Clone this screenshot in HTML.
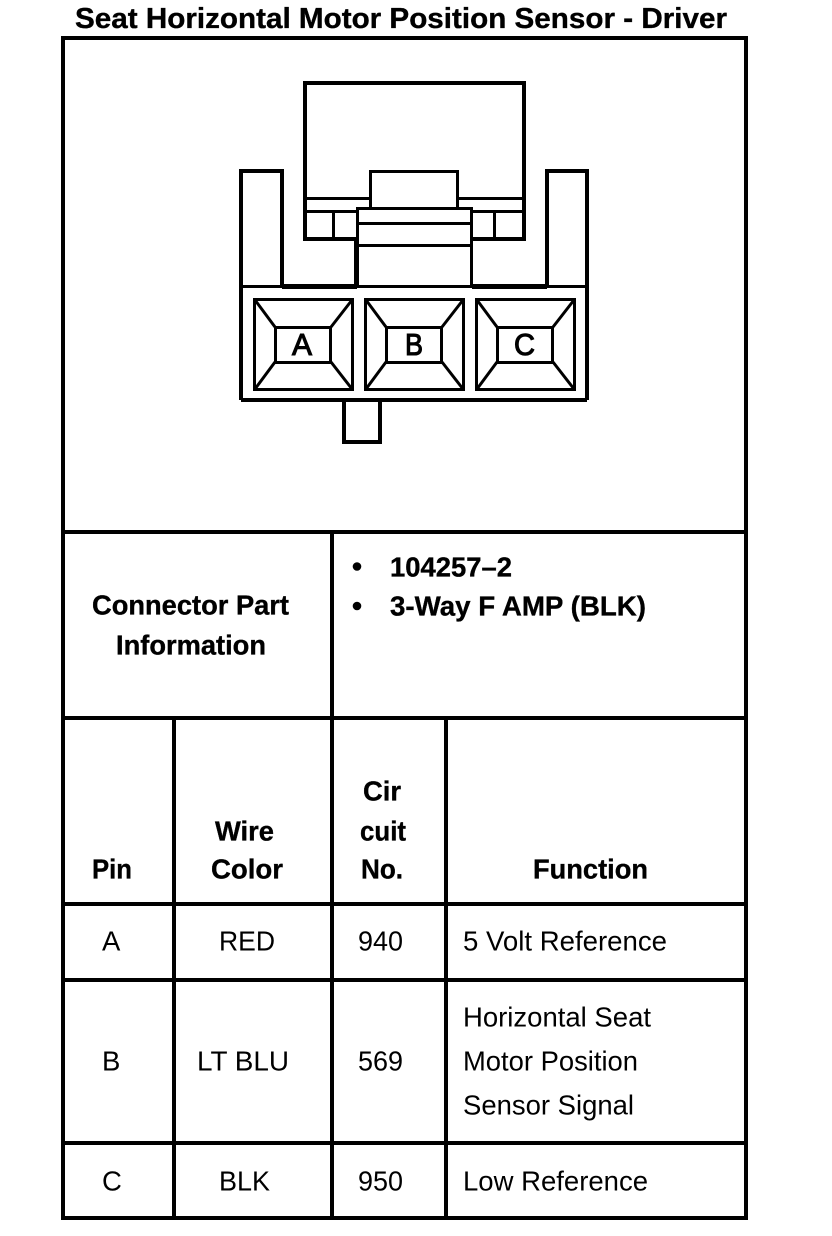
<!DOCTYPE html>
<html><head><meta charset="utf-8"><style>
html,body{margin:0;padding:0;background:#fff;width:832px;height:1236px;overflow:hidden}
svg{display:block}
text{font-family:"Liberation Sans",Arial,sans-serif;fill:#000}
.b{font-weight:bold;font-size:27.500px;stroke:#000;stroke-width:.35px}
.r{font-size:27.500px}
.p{font-size:31px;stroke:#000;stroke-width:1.100px}
</style></head><body>
<svg width="832" height="1236" viewBox="0 0 832 1236" xmlns="http://www.w3.org/2000/svg">
<rect width="832" height="1236" fill="#fff"/>
<text class="b" x="75" y="28" style="font-size:28.500px" textLength="652" lengthAdjust="spacingAndGlyphs">Seat Horizontal Motor Position Sensor - Driver</text>

<g stroke="#000" stroke-width="4" fill="none" shape-rendering="crispEdges">
<rect x="63" y="38" width="683" height="1180"/>
<path d="M63 532H746M63 718H746M63 904H746M63 980H746M63 1143H746"/>
<path d="M332 532V1218M174 718V1218M446 718V1218"/>
<path d="M241 400V171H282V286M547 286V171H587V400M344 400V442H380V400"/>
<path d="M241 400H587"/>
</g>
<g stroke="#000" fill="none" shape-rendering="crispEdges">
<rect x="305" y="83" width="219" height="156" stroke-width="4" fill="#fff"/>
<g stroke-width="3">
<path d="M305 198.500H370M458 198.500H524M305 211.500H357M472 211.500H524M333.500 211.500V239M494.500 211.500V239"/>
<rect x="370.500" y="171.500" width="87" height="37" fill="#fff"/>
<rect x="357.500" y="208.500" width="114" height="78" fill="#fff"/>
<path d="M357 223.500H472M357 245.500H472M241 286.500H587"/>
</g>
<path d="M356.500 238V288" stroke-width="5"/>
</g>
<path d="M282 286.500H357M472 286.500H547" stroke="#000" stroke-width="5" shape-rendering="crispEdges"/>

<g stroke="#000" stroke-width="3" fill="none">
<g>
<rect x="254.500" y="299.500" width="98" height="90" shape-rendering="crispEdges"/>
<rect x="275.500" y="327.500" width="55" height="35" shape-rendering="crispEdges"/>
<path d="M255 300L275 327M352 300L331 327M255 389L275 362M352 389L331 362"/>
</g>
<g>
<rect x="365.500" y="299.500" width="98" height="90" shape-rendering="crispEdges"/>
<rect x="386.500" y="327.500" width="55" height="35" shape-rendering="crispEdges"/>
<path d="M366 300L386 327M463 300L442 327M366 389L386 362M463 389L442 362"/>
</g>
<g>
<rect x="476.500" y="299.500" width="98" height="90" shape-rendering="crispEdges"/>
<rect x="497.500" y="327.500" width="55" height="35" shape-rendering="crispEdges"/>
<path d="M477 300L497 327M574 300L553 327M477 389L497 362M574 389L553 362"/>
</g>
</g>
<text class="p" x="292" y="355" textLength="20" lengthAdjust="spacingAndGlyphs">A</text>
<text class="p" x="405" y="355" textLength="18" lengthAdjust="spacingAndGlyphs">B</text>
<text class="p" x="514" y="355" textLength="21" lengthAdjust="spacingAndGlyphs">C</text>

<text class="b" x="92" y="614.500" textLength="197" lengthAdjust="spacingAndGlyphs">Connector Part</text>
<text class="b" x="116" y="654.500" textLength="150" lengthAdjust="spacingAndGlyphs">Information</text>
<circle cx="357" cy="566.500" r="4.300"/><circle cx="357" cy="606" r="4.300"/>
<text class="b" x="390" y="576.500" textLength="122" lengthAdjust="spacingAndGlyphs">104257–2</text>
<text class="b" x="390" y="615.500" textLength="256" lengthAdjust="spacingAndGlyphs">3-Way F AMP (BLK)</text>

<text class="b" x="363" y="800.500" textLength="38" lengthAdjust="spacingAndGlyphs">Cir</text>
<text class="b" x="360" y="840.500" textLength="46" lengthAdjust="spacingAndGlyphs">cuit</text>
<text class="b" x="361" y="878.500" textLength="42" lengthAdjust="spacingAndGlyphs">No.</text>
<text class="b" x="215" y="840.500" textLength="59" lengthAdjust="spacingAndGlyphs">Wire</text>
<text class="b" x="211" y="878.500" textLength="72" lengthAdjust="spacingAndGlyphs">Color</text>
<text class="b" x="92" y="878.500" textLength="40" lengthAdjust="spacingAndGlyphs">Pin</text>
<text class="b" x="533" y="878.500" textLength="115" lengthAdjust="spacingAndGlyphs">Function</text>

<text class="r" x="102" y="950.500">A</text>
<text class="r" x="219" y="950.500" textLength="56" lengthAdjust="spacingAndGlyphs">RED</text>
<text class="r" x="358" y="950.500" textLength="45" lengthAdjust="spacingAndGlyphs">940</text>
<text class="r" x="463" y="950.500" textLength="204" lengthAdjust="spacingAndGlyphs">5 Volt Reference</text>

<text class="r" x="102" y="1070.500">B</text>
<text class="r" x="197" y="1070.500" textLength="92" lengthAdjust="spacingAndGlyphs">LT BLU</text>
<text class="r" x="358" y="1070.500" textLength="45" lengthAdjust="spacingAndGlyphs">569</text>
<text class="r" x="463" y="1026.500" textLength="188" lengthAdjust="spacingAndGlyphs">Horizontal Seat</text>
<text class="r" x="463" y="1070.500" textLength="175" lengthAdjust="spacingAndGlyphs">Motor Position</text>
<text class="r" x="463" y="1114.500" textLength="171" lengthAdjust="spacingAndGlyphs">Sensor Signal</text>

<text class="r" x="102" y="1190.500">C</text>
<text class="r" x="219" y="1190.500" textLength="51" lengthAdjust="spacingAndGlyphs">BLK</text>
<text class="r" x="358" y="1190.500" textLength="45" lengthAdjust="spacingAndGlyphs">950</text>
<text class="r" x="463" y="1190.500" textLength="185" lengthAdjust="spacingAndGlyphs">Low Reference</text>
</svg>
</body></html>
